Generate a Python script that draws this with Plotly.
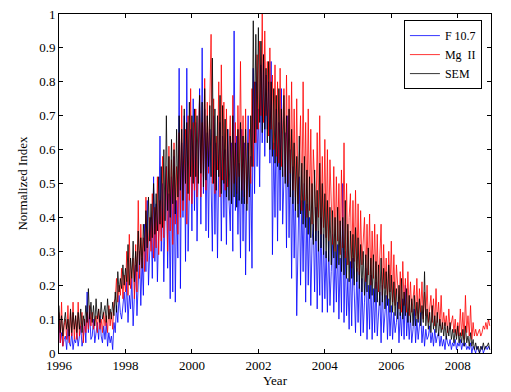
import plotly.graph_objects as go

# Sampling: 26 samples per year starting at 1996.0
start_year = 1996
samples_per_year = 26

f107 = [
    0.10, 0.03, 0.06, 0.02, 0.04, 0.05, 0.01, 0.07, 0.03, 0.02, 0.06, 0.01, 0.04,
    0.03, 0.06, 0.02, 0.05, 0.08, 0.02, 0.04, 0.10, 0.03, 0.18, 0.06, 0.12, 0.04,
    0.05, 0.10, 0.03, 0.07, 0.09, 0.04, 0.11, 0.05, 0.03, 0.08, 0.04, 0.09, 0.02,
    0.06, 0.03, 0.05, 0.01, 0.09, 0.06, 0.14, 0.09, 0.17, 0.12, 0.10, 0.15, 0.18,
    0.12, 0.21, 0.09, 0.17, 0.13, 0.22, 0.08, 0.15, 0.26, 0.11, 0.24, 0.30, 0.14,
    0.28, 0.17, 0.38, 0.24, 0.45, 0.20, 0.31, 0.40, 0.22, 0.52, 0.27, 0.44, 0.21,
    0.36, 0.64, 0.30, 0.50, 0.21, 0.42, 0.55, 0.25, 0.47, 0.16, 0.52, 0.18, 0.58,
    0.15, 0.45, 0.28, 0.84, 0.19, 0.62, 0.40, 0.70, 0.27, 0.84, 0.30, 0.50, 0.66,
    0.36, 0.75, 0.42, 0.68, 0.33, 0.58, 0.78, 0.38, 0.90, 0.47, 0.72, 0.36, 0.65,
    0.34, 0.66, 0.50, 0.30, 0.70, 0.35, 0.62, 0.28, 0.55, 0.68, 0.33, 0.64, 0.40,
    0.60, 0.32, 0.66, 0.45, 0.36, 0.62, 0.30, 0.95, 0.42, 0.64, 0.35, 0.56, 0.28,
    0.66, 0.33, 0.62, 0.23, 0.52, 0.70, 0.30, 0.58, 0.25, 0.84, 0.47, 0.80, 0.55,
    0.72, 0.49, 0.85, 0.62, 0.88, 0.58, 0.82, 0.66, 0.80, 0.56, 0.86, 0.29, 0.62,
    0.40, 0.72, 0.33, 0.68, 0.42, 0.78, 0.38, 0.56, 0.65, 0.31, 0.70, 0.34, 0.60,
    0.22, 0.55, 0.28, 0.48, 0.11, 0.40, 0.52, 0.20, 0.45, 0.24, 0.50, 0.15, 0.44,
    0.20, 0.40, 0.14, 0.33, 0.38, 0.18, 0.43, 0.13, 0.36, 0.17, 0.40, 0.12, 0.35,
    0.16, 0.30, 0.12, 0.33, 0.14, 0.24, 0.35, 0.12, 0.30, 0.15, 0.32, 0.10, 0.28,
    0.12, 0.50, 0.09, 0.30, 0.11, 0.22, 0.07, 0.27, 0.08, 0.28, 0.18, 0.06, 0.25,
    0.09, 0.24, 0.05, 0.22, 0.06, 0.15, 0.25, 0.04, 0.20, 0.07, 0.23, 0.04, 0.19,
    0.06, 0.21, 0.05, 0.14, 0.18, 0.03, 0.20, 0.06, 0.12, 0.17, 0.04, 0.16, 0.05,
    0.14, 0.04, 0.12, 0.06, 0.09, 0.15, 0.03, 0.12, 0.05, 0.16, 0.04, 0.20, 0.05,
    0.12, 0.04, 0.11, 0.03, 0.07, 0.13, 0.03, 0.10, 0.04, 0.09, 0.12, 0.03, 0.08,
    0.02, 0.07, 0.04, 0.05, 0.08, 0.03, 0.06, 0.02, 0.07, 0.03, 0.05, 0.06, 0.02,
    0.05, 0.02, 0.04, 0.01, 0.05, 0.03, 0.02, 0.04, 0.01, 0.03, 0.02, 0.04, 0.01,
    0.03, 0.02, 0.04, 0.01, 0.03, 0.02, 0.03, 0.01, 0.02, 0.01, 0.03, 0.00, 0.02,
    0.01, 0.00, 0.02, 0.01, 0.00, 0.01, 0.02, 0.00, 0.01, 0.02, 0.01, 0.02, 0.01,
]

mg2 = [
    0.12, 0.03, 0.15, 0.02, 0.08, 0.10, 0.04, 0.14, 0.03, 0.12, 0.05, 0.15, 0.04,
    0.11, 0.04, 0.15, 0.05, 0.09, 0.12, 0.03, 0.10, 0.06, 0.12, 0.07, 0.14, 0.08,
    0.12, 0.07, 0.09, 0.11, 0.06, 0.13, 0.07, 0.10, 0.06, 0.12, 0.08, 0.11, 0.06,
    0.14, 0.08, 0.12, 0.07, 0.15, 0.16, 0.22, 0.15, 0.20, 0.17, 0.25, 0.16, 0.23,
    0.18, 0.30, 0.17, 0.35, 0.19, 0.24, 0.28, 0.16, 0.32, 0.18, 0.45, 0.22, 0.38,
    0.25, 0.34, 0.24, 0.46, 0.27, 0.36, 0.40, 0.30, 0.47, 0.28, 0.43, 0.31, 0.52,
    0.29, 0.45, 0.33, 0.58, 0.34, 0.48, 0.55, 0.30, 0.61, 0.36, 0.57, 0.32, 0.62,
    0.38, 0.55, 0.35, 0.65, 0.40, 0.73, 0.42, 0.58, 0.66, 0.38, 0.70, 0.45, 0.78,
    0.44, 0.68, 0.48, 0.72, 0.46, 0.60, 0.76, 0.46, 0.68, 0.52, 0.81, 0.48, 0.74,
    0.53, 0.72, 0.94, 0.50, 0.75, 0.47, 0.64, 0.54, 0.80, 0.46, 0.85, 0.51, 0.74,
    0.48, 0.72, 0.49, 0.62, 0.70, 0.45, 0.76, 0.50, 0.68, 0.47, 0.73, 0.52, 0.86,
    0.48, 0.70, 0.46, 0.72, 0.44, 0.58, 0.66, 0.50, 0.78, 0.55, 0.80, 0.62, 0.88,
    0.66, 0.92, 0.70, 1.00, 0.68, 0.95, 0.70, 0.86, 0.64, 0.90, 0.66, 0.82, 0.60,
    0.85, 0.58, 0.80, 0.56, 0.84, 0.55, 0.70, 0.78, 0.52, 0.82, 0.50, 0.76, 0.53,
    0.80, 0.48, 0.72, 0.46, 0.75, 0.44, 0.62, 0.70, 0.42, 0.80, 0.45, 0.68, 0.40,
    0.72, 0.42, 0.66, 0.38, 0.60, 0.50, 0.36, 0.65, 0.40, 0.70, 0.35, 0.58, 0.37,
    0.63, 0.34, 0.60, 0.33, 0.57, 0.44, 0.32, 0.55, 0.30, 0.52, 0.33, 0.50, 0.29,
    0.54, 0.31, 0.62, 0.28, 0.50, 0.26, 0.40, 0.47, 0.25, 0.45, 0.27, 0.48, 0.24,
    0.44, 0.23, 0.42, 0.26, 0.34, 0.40, 0.21, 0.38, 0.23, 0.41, 0.20, 0.36, 0.22,
    0.38, 0.19, 0.35, 0.18, 0.30, 0.38, 0.17, 0.32, 0.19, 0.28, 0.16, 0.30, 0.18,
    0.33, 0.15, 0.29, 0.14, 0.26, 0.20, 0.13, 0.24, 0.12, 0.27, 0.14, 0.22, 0.12,
    0.24, 0.11, 0.21, 0.12, 0.16, 0.20, 0.11, 0.22, 0.10, 0.19, 0.12, 0.21, 0.10,
    0.18, 0.11, 0.20, 0.09, 0.14, 0.17, 0.09, 0.16, 0.08, 0.19, 0.09, 0.15, 0.08,
    0.17, 0.07, 0.12, 0.08, 0.11, 0.06, 0.13, 0.07, 0.09, 0.11, 0.06, 0.10, 0.05,
    0.09, 0.05, 0.13, 0.05, 0.12, 0.04, 0.17, 0.06, 0.11, 0.05, 0.14, 0.04, 0.09,
    0.05, 0.07, 0.05, 0.06, 0.07, 0.05, 0.06, 0.08, 0.07, 0.09, 0.07, 0.10, 0.08,
]

sem = [
    0.14, 0.06, 0.11, 0.05, 0.09, 0.12, 0.07, 0.10, 0.05, 0.13, 0.06, 0.12, 0.07,
    0.11, 0.06, 0.12, 0.07, 0.13, 0.06, 0.11, 0.08, 0.14, 0.09, 0.19, 0.10, 0.15,
    0.09, 0.14, 0.08, 0.16, 0.10, 0.13, 0.09, 0.15, 0.10, 0.12, 0.14, 0.09, 0.16,
    0.10, 0.13, 0.10, 0.15, 0.11, 0.18, 0.12, 0.24, 0.18, 0.22, 0.19, 0.26, 0.20,
    0.25, 0.21, 0.32, 0.20, 0.28, 0.22, 0.33, 0.21, 0.30, 0.24, 0.36, 0.26, 0.34,
    0.25, 0.38, 0.30, 0.42, 0.31, 0.46, 0.33, 0.44, 0.34, 0.50, 0.35, 0.47, 0.36,
    0.52, 0.38, 0.55, 0.37, 0.60, 0.39, 0.70, 0.42, 0.58, 0.40, 0.63, 0.44, 0.60,
    0.41, 0.66, 0.46, 0.70, 0.48, 0.66, 0.45, 0.72, 0.50, 0.68, 0.47, 0.74, 0.52,
    0.70, 0.50, 0.72, 0.52, 0.70, 0.50, 0.76, 0.53, 0.74, 0.49, 0.78, 0.51, 0.70,
    0.55, 0.73, 0.52, 0.87, 0.50, 0.72, 0.48, 0.70, 0.52, 0.76, 0.47, 0.73, 0.50,
    0.69, 0.46, 0.66, 0.45, 0.64, 0.44, 0.70, 0.46, 0.62, 0.43, 0.66, 0.45, 0.68,
    0.44, 0.64, 0.44, 0.66, 0.42, 0.62, 0.46, 0.70, 0.55, 0.98, 0.62, 0.94, 0.66,
    0.96, 0.68, 0.92, 0.65, 0.88, 0.66, 0.84, 0.62, 0.86, 0.60, 0.80, 0.58, 0.78,
    0.56, 0.76, 0.55, 0.78, 0.54, 0.72, 0.52, 0.76, 0.50, 0.70, 0.49, 0.72, 0.46,
    0.66, 0.44, 0.62, 0.42, 0.58, 0.40, 0.64, 0.41, 0.56, 0.38, 0.58, 0.37, 0.54,
    0.35, 0.52, 0.34, 0.50, 0.32, 0.54, 0.33, 0.48, 0.30, 0.56, 0.31, 0.50, 0.29,
    0.47, 0.28, 0.45, 0.27, 0.43, 0.26, 0.42, 0.28, 0.40, 0.25, 0.43, 0.26, 0.39,
    0.24, 0.40, 0.23, 0.45, 0.22, 0.38, 0.21, 0.36, 0.22, 0.35, 0.20, 0.37, 0.21,
    0.34, 0.19, 0.32, 0.18, 0.30, 0.17, 0.29, 0.18, 0.31, 0.16, 0.28, 0.17, 0.29,
    0.15, 0.27, 0.15, 0.26, 0.14, 0.28, 0.15, 0.25, 0.13, 0.24, 0.14, 0.26, 0.12,
    0.23, 0.12, 0.21, 0.11, 0.19, 0.10, 0.20, 0.11, 0.22, 0.10, 0.18, 0.11, 0.19,
    0.09, 0.17, 0.09, 0.16, 0.08, 0.17, 0.08, 0.15, 0.09, 0.16, 0.08, 0.14, 0.09,
    0.24, 0.08, 0.13, 0.07, 0.12, 0.06, 0.14, 0.07, 0.11, 0.06, 0.12, 0.05, 0.10,
    0.06, 0.09, 0.05, 0.09, 0.04, 0.08, 0.05, 0.09, 0.04, 0.07, 0.03, 0.07, 0.04,
    0.08, 0.03, 0.06, 0.03, 0.07, 0.02, 0.08, 0.03, 0.05, 0.02, 0.06, 0.02, 0.04,
    0.01, 0.03, 0.01, 0.02, 0.00, 0.02, 0.01, 0.03, 0.01, 0.02, 0.02, 0.03, 0.01,
]

series_names = ["F 10.7", "Mg  II", "SEM"]
series_colors = ["#0000ff", "#ff0000", "#000000"]
x_ticks = [1996, 1998, 2000, 2002, 2004, 2006, 2008]
y_ticks = [0, 0.1, 0.2, 0.3, 0.4, 0.5, 0.6, 0.7, 0.8, 0.9, 1]
y_tick_labels = ["0", "0.1", "0.2", "0.3", "0.4", "0.5", "0.6", "0.7", "0.8", "0.9", "1"]

years = [start_year + i / samples_per_year for i in range(len(f107))]

font_family = "Liberation Serif"

fig = go.Figure()
for name, vals, col in zip(series_names, [f107, mg2, sem], series_colors):
    fig.add_trace(go.Scatter(x=years, y=vals, mode="lines", name=name,
                             line=dict(color=col, width=0.8)))

axis_common = dict(showline=True, linecolor="black", linewidth=1, mirror="ticks",
                   ticks="inside", ticklen=4, tickcolor="black", showgrid=False,
                   zeroline=False, automargin=False, ticklabeloverflow="allow",
                   tickfont=dict(family=font_family, size=13, color="black"))

# The page body has an 8px margin, so the figure is sized to fit inside it.
fig.update_layout(
    width=503, height=384,
    margin=dict(l=51, r=20, t=6, b=39, pad=0),
    paper_bgcolor="white", plot_bgcolor="white",
    font=dict(family=font_family, size=13, color="black"),
    xaxis=dict(range=[1996, 2009], tickvals=x_ticks, ticktext=[str(v) for v in x_ticks],
               title=dict(text="Year", standoff=2, font=dict(family=font_family, size=13)),
               **axis_common),
    yaxis=dict(range=[0, 1], tickvals=y_ticks, ticktext=y_tick_labels,
               title=dict(text="Normalized Index", standoff=8, font=dict(family=font_family, size=13)),
               **axis_common),
    legend=dict(x=0.979, y=0.982, xanchor="right", yanchor="top",
                bgcolor="white", bordercolor="black", borderwidth=1,
                font=dict(family=font_family, size=12), tracegroupgap=0,
                entrywidth=50, entrywidthmode="pixels"),
    showlegend=True,
)

fig.write_html("out.html")
